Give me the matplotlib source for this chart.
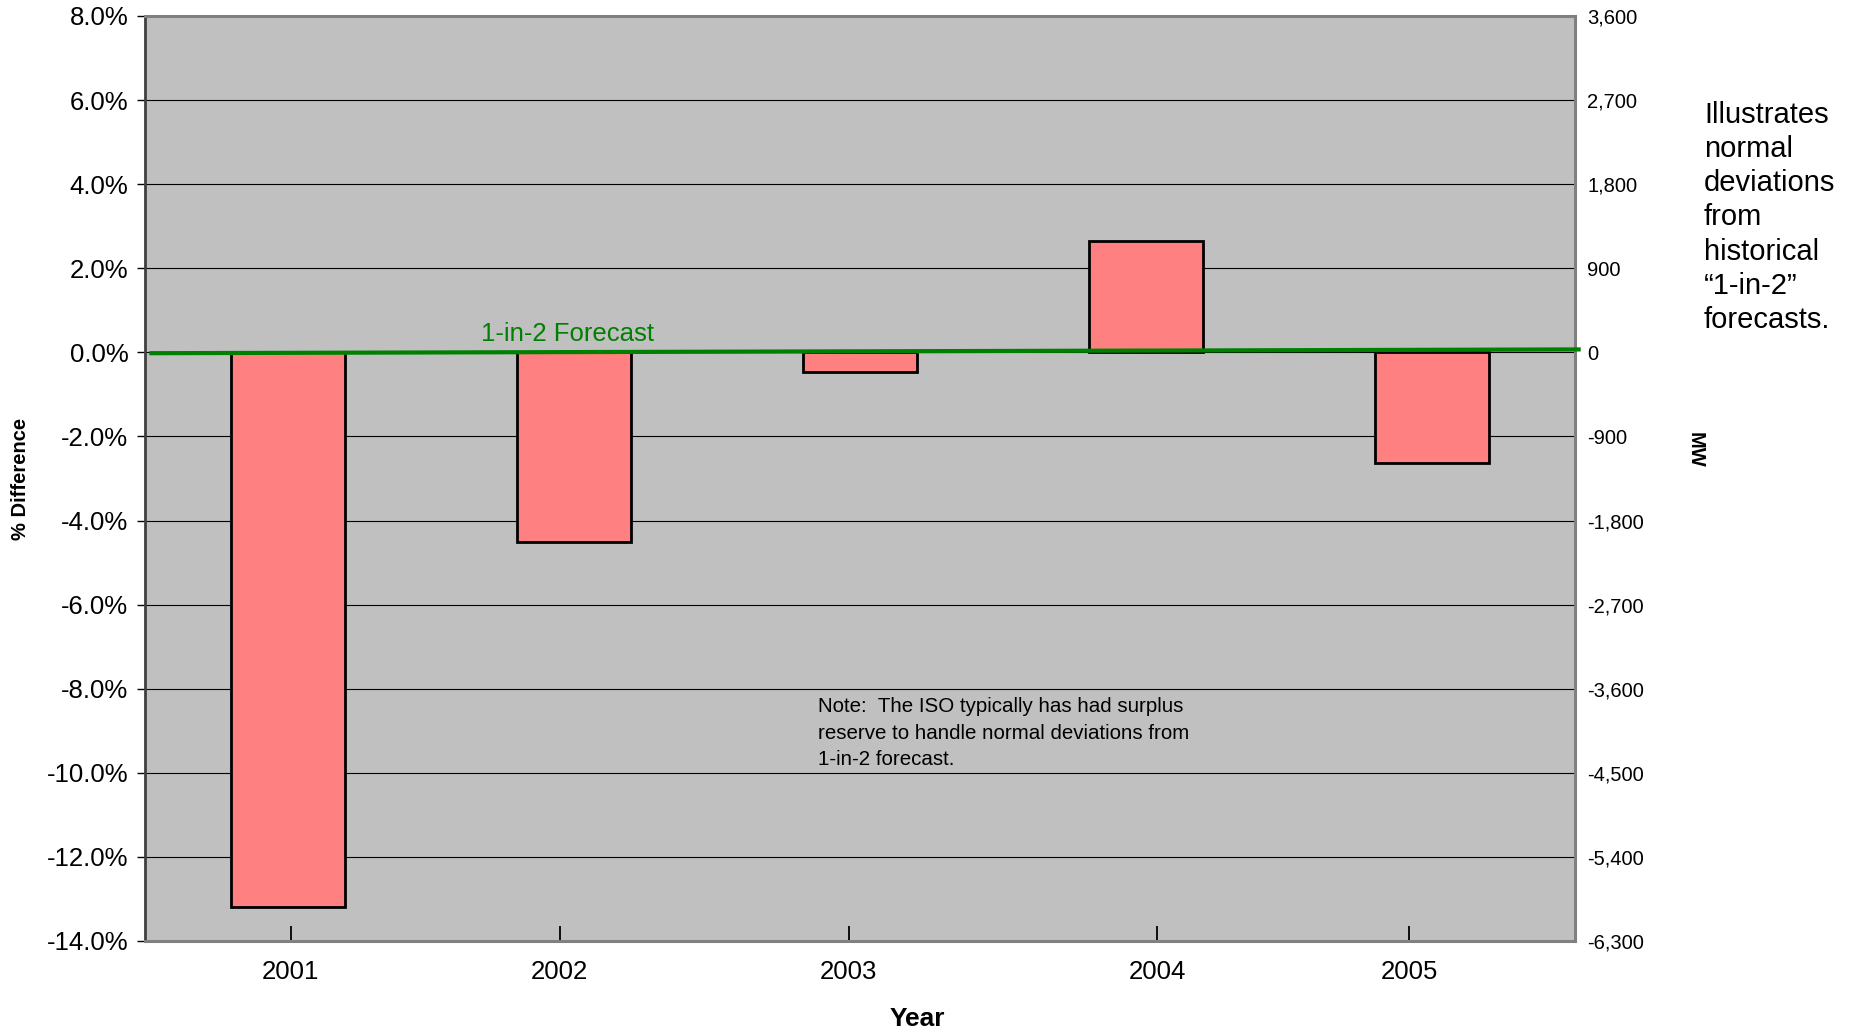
import matplotlib.pyplot as plt
from matplotlib.ticker import FuncFormatter, MultipleLocator

plt.rcParams["font.family"] = ["Liberation Sans", "DejaVu Sans"]

# Yearly deviation from the 1-in-2 forecast (%)
years = ["2001", "2002", "2003", "2004", "2005"]
pct_diff = [-13.2, -4.5, -0.47, 2.65, -2.62]

# Year tick positions on the category scale
year_ticks = [0.01, 0.95, 1.96, 3.04, 3.92]

# 1-in-2 forecast reference line (category x, % difference)
forecast_x = [-0.485, 4.52]
forecast_y = [-0.02, 0.07]

# MW scale on the right: 1% = 450 MW
mw_per_pct = 450

fig = plt.figure(figsize=(18.57, 10.30), dpi=100)
ax = fig.add_axes([145 / 1857, 89 / 1030, 1430 / 1857, 925 / 1030])
ax.set_facecolor("#C0C0C0")

ax.set_xlim(-0.5, 4.5)
ax.set_ylim(-14, 8)
ax.yaxis.set_major_locator(MultipleLocator(2))
ax.yaxis.set_major_formatter(FuncFormatter(lambda v, p: f"{v:.1f}%"))
ax.grid(axis="y", color="black", linewidth=0.8, zorder=1)
ax.set_axisbelow(True)

ax.bar(range(len(years)), pct_diff, width=0.40, color="#FF8080",
       edgecolor="black", linewidth=2, zorder=3)

ax.plot(forecast_x, forecast_y, color="#008000", linewidth=3,
        zorder=4, clip_on=False, solid_capstyle="butt")
ax.text(0.675, 0.28, "1-in-2 Forecast", color="#008000", fontsize=18.5,
        ha="left", va="baseline")

ax.set_xticks(year_ticks)
ax.set_xticklabels(years)
ax.tick_params(axis="x", direction="in", length=11, width=1.3,
               labelsize=18.5, pad=14, color="black")
ax.tick_params(axis="y", direction="out", length=6, width=1,
               labelsize=18.5, pad=6)

for side in ["top", "right", "bottom"]:
    ax.spines[side].set_color("#808080")
    ax.spines[side].set_linewidth(2.2)
ax.spines["left"].set_color("#404040")
ax.spines["left"].set_linewidth(2)

ax.set_xlabel("Year", fontsize=19, fontweight="bold")
ax.xaxis.set_label_coords(0.54, -0.071)
ax.set_ylabel("% Difference", fontsize=14.5, fontweight="bold", labelpad=12)

# Secondary MW axis
ax2 = ax.twinx()
ax2.set_ylim(-14 * mw_per_pct, 8 * mw_per_pct)
ax2.yaxis.set_major_locator(MultipleLocator(900))
ax2.yaxis.set_major_formatter(FuncFormatter(lambda v, p: f"{v:,.0f}"))
ax2.tick_params(axis="y", length=0, labelsize=14.5, pad=9)
ax2.set_ylabel("MW", fontsize=14.5, fontweight="bold", rotation=-90,
               va="center", ha="center")
ax2.yaxis.set_label_coords(1.084, 0.531)
for side in ["top", "right", "bottom", "left"]:
    ax2.spines[side].set_visible(False)

ax.text(1.853, -8.2,
        "Note:  The ISO typically has had surplus\n"
        "reserve to handle normal deviations from\n"
        "1-in-2 forecast.",
        fontsize=14.8, ha="left", va="top", linespacing=1.5)

fig.text(1704 / 1857, 1 - 101 / 1030,
         "Illustrates\nnormal\ndeviations\nfrom\nhistorical\n\u201c1-in-2\u201d\nforecasts.",
         fontsize=21, ha="left", va="top", linespacing=1.28)

fig.savefig("out.png", dpi=100)
